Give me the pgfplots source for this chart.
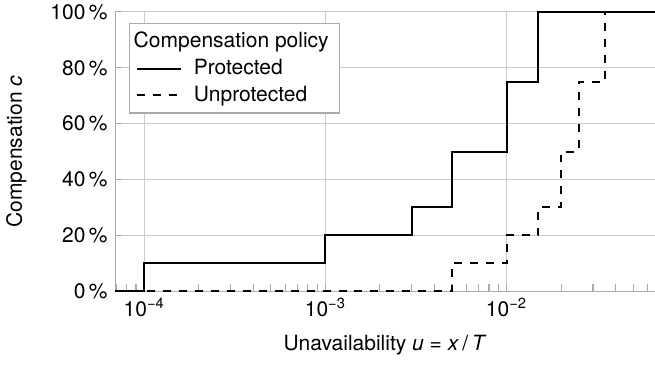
\documentclass[border=0pt]{standalone}
\usepackage{fontspec}
\setmainfont{TeX Gyre Heros}
\setsansfont{TeX Gyre Heros}
\usepackage{pgfplots}
\pgfplotsset{compat=1.18}

\definecolor{gridgray}{RGB}{204,204,204}
\definecolor{axisgray}{RGB}{170,170,170}

% Compensation steps: each point gives the level that holds from its x onwards
\pgfplotstableread{
u        c
6.9e-5   0
1e-4     10
1e-3     20
3e-3     30
5e-3     50
1e-2     75
1.5e-2   100
0.066    100
}\protectedtbl

\pgfplotstableread{
u        c
6.9e-5   0
5e-3     10
1e-2     20
1.5e-2   30
2e-2     50
2.5e-2   75
3.5e-2   100
0.066    100
}\unprotectedtbl

\begin{document}
\begin{tikzpicture}
\begin{axis}[
  scale only axis,
  width=257.1pt, height=132.9pt,
  xmode=log,
  xmin=6.9e-5, xmax=0.066,
  ymin=0, ymax=100,
  axis x line=bottom, axis y line=left,
  axis line style={-, draw=axisgray, line width=0.5pt},
  xtick={1e-5,1e-4,1e-3,1e-2,1e-1},
  xticklabel={\pgfmathparse{int(round(-\tick/2.302585))}10\textsuperscript{\char"2212\relax\pgfmathresult}},
  ytick={0,20,40,60,80,100},
  yticklabel={\pgfmathprintnumber{\tick}\,\%},
  /pgf/number format/assume math mode=true,
  tick align=inside,
  major tick length=3.3pt,
  minor tick length=3.3pt,
  every tick/.style={draw=axisgray, line width=0.5pt},
  grid=major,
  major grid style={draw=gridgray, line width=0.5pt},
  tick label style={font=\normalsize},
  xlabel={Unavailability \textit{u} = \textit{x}\,/\,\textit{T}},
  ylabel={Compensation \textit{c}},
  xlabel style={at={(axis description cs:0.5,-0.195)}, anchor=center},
  ylabel style={at={(axis description cs:-0.183,0.5)}, anchor=center},
  clip=false,
  legend cell align=left,
  legend image code/.code={\draw[#1] (0pt,0pt) -- (21pt,0pt);},
  legend style={
    at={(axis description cs:0.026,0.96)}, anchor=north west,
    draw=axisgray, fill=white, line width=0.5pt,
    inner xsep=3pt, inner ysep=2pt, column sep=3.6pt,
    font=\normalsize,
  },
]
\addlegendimage{empty legend}
\addlegendentry{\hspace{-28.6pt}Compensation policy}
\addplot[const plot, black, line width=0.95pt] table[x=u, y=c] {\protectedtbl};
\addlegendentry{Protected}
\addplot[const plot, black, line width=0.95pt, dash pattern=on 3.8pt off 3.8pt] table[x=u, y=c] {\unprotectedtbl};
\addlegendentry{Unprotected}
\end{axis}
\pgfresetboundingbox
\path (current axis.south west) ++(-54.8pt,-35.7pt) rectangle ([yshift=5.7pt]current axis.north east);
\end{tikzpicture}
\end{document}
